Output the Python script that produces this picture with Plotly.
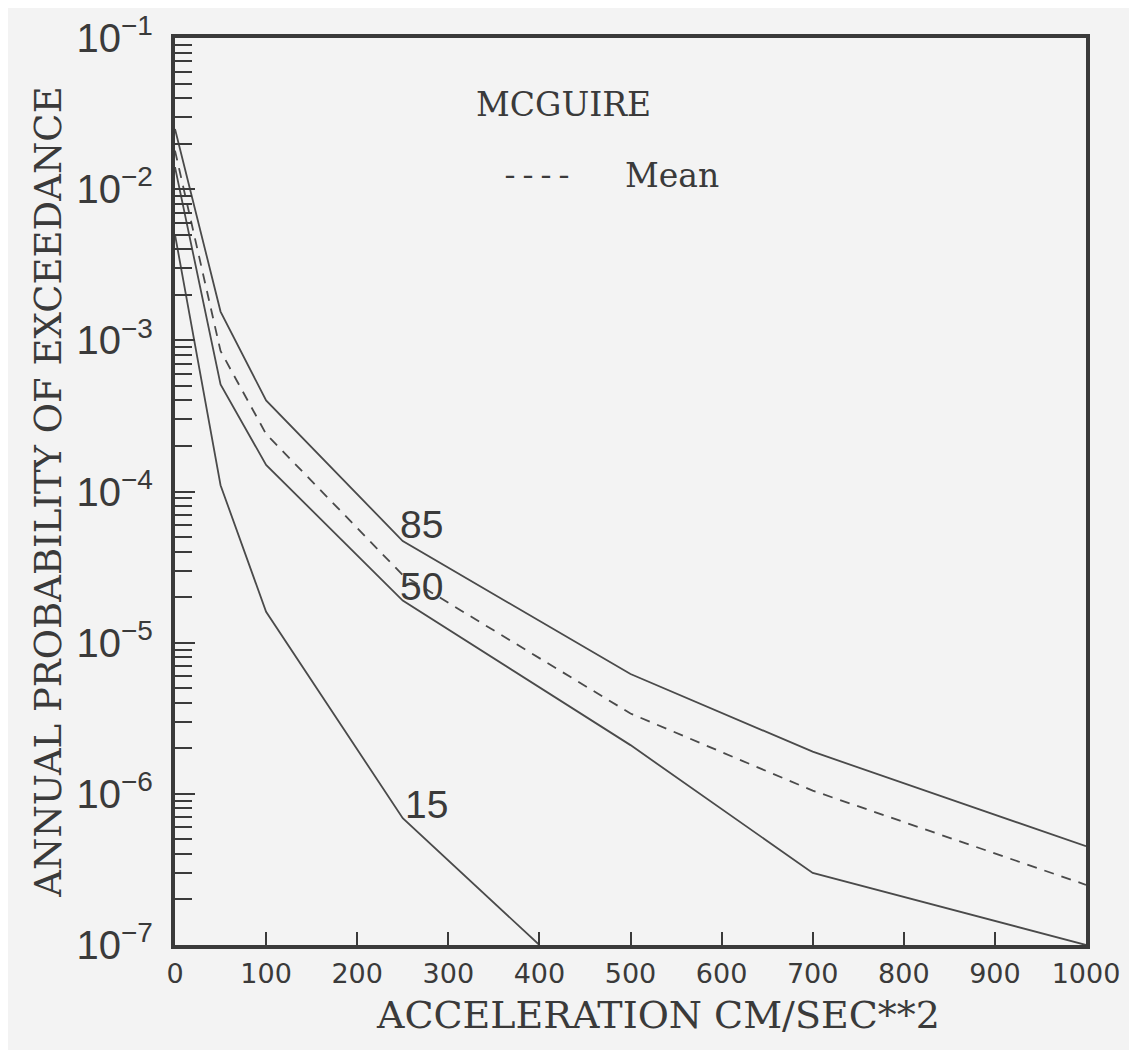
import plotly.graph_objects as go

# Acceleration (cm/sec**2) knots
accel = [0, 50, 100, 250, 500, 700, 1000]
accel_15 = [0, 50, 100, 250, 400]

# Annual probability of exceedance
p85 = [0.025, 1.55e-3, 4.0e-4, 4.7e-5, 6.2e-6, 1.9e-6, 4.5e-7]
p50 = [0.014, 5.1e-4, 1.5e-4, 1.9e-5, 2.1e-6, 3.0e-7, 1.0e-7]
pmean = [0.018, 8.5e-4, 2.4e-4, 2.8e-5, 3.4e-6, 1.05e-6, 2.5e-7]
p15 = [0.005, 1.1e-4, 1.6e-5, 6.9e-7, 1.0e-7]

x_ticks = [0, 100, 200, 300, 400, 500, 600, 700, 800, 900, 1000]

line_col = "#4a4a4a"
ink = "#3a3a3a"
bg = "#f3f3f3"

fig = go.Figure()
fig.add_trace(go.Scatter(x=accel, y=p85, mode="lines", name="85",
                         line=dict(color=line_col, width=1.8), showlegend=False))
fig.add_trace(go.Scatter(x=accel, y=pmean, mode="lines", name="Mean",
                         line=dict(color=line_col, width=1.8, dash="10px,8px"), showlegend=False))
fig.add_trace(go.Scatter(x=accel, y=p50, mode="lines", name="50",
                         line=dict(color=line_col, width=1.8), showlegend=False))
fig.add_trace(go.Scatter(x=accel_15, y=p15, mode="lines", name="15",
                         line=dict(color=line_col, width=1.8), showlegend=False))

num_font = dict(family="Liberation Sans, Arial, sans-serif", size=39, color=ink)
fig.add_annotation(x=245, y=-4.22, text="85", showarrow=False, xanchor="left", yanchor="middle", font=num_font)
fig.add_annotation(x=245, y=-4.63, text="50", showarrow=False, xanchor="left", yanchor="middle", font=num_font)
fig.add_annotation(x=250, y=-6.07, text="15", showarrow=False, xanchor="left", yanchor="middle", font=num_font)

serif = "DejaVu Serif, serif"
fig.add_annotation(xref="paper", yref="paper", x=0.427, y=0.927, text="MCGUIRE",
                   xanchor="center", yanchor="middle",
                   showarrow=False, font=dict(family=serif, size=33, color=ink))
fig.add_annotation(xref="paper", yref="paper", x=0.397, y=0.847, text="----",
                   xanchor="center", yanchor="middle",
                   showarrow=False, font=dict(family="Liberation Mono, monospace", size=30, color=ink))
fig.add_annotation(xref="paper", yref="paper", x=0.546, y=0.848, text="Mean",
                   xanchor="center", yanchor="middle",
                   showarrow=False, font=dict(family=serif, size=33, color=ink))
# x-axis title, placed as in the original (slightly right of centre)
fig.add_annotation(xref="paper", yref="paper", x=0.530, y=-0.077, text="ACCELERATION CM/SEC**2",
                   xanchor="center", yanchor="middle",
                   showarrow=False, font=dict(family=serif, size=38, color=ink))

fig.update_layout(
    width=1137, height=1050,
    margin=dict(l=167, r=59, t=30, b=113),
    paper_bgcolor=bg, plot_bgcolor=bg,
    showlegend=False,
)

fig.update_xaxes(
    range=[0, 1000], automargin=False,
    tickmode="array", tickvals=x_ticks, ticktext=[str(v) for v in x_ticks],
    ticks="inside", ticklen=13, tickwidth=1.5, tickcolor=ink,
    showline=True, linewidth=3.5, linecolor=ink, mirror=True,
    showgrid=False, zeroline=False,
    tickfont=dict(family="DejaVu Sans, sans-serif", size=27, color=ink),
    ticklabelstandoff=2,
)

fig.update_yaxes(
    type="log", range=[-7, -1], automargin=False,
    tickmode="linear", tick0=0, dtick=1, exponentformat="power", showexponent="all",
    ticklabeloverflow="allow",
    ticks="inside", ticklen=20, tickwidth=1.5, tickcolor=ink,
    minor=dict(ticks="inside", ticklen=17, tickwidth=1.5, tickcolor=ink, dtick="D1", showgrid=False),
    showline=True, linewidth=3.5, linecolor=ink, mirror=True,
    showgrid=False, zeroline=False,
    tickfont=dict(family="Liberation Sans, Arial, sans-serif", size=32, color=ink),
    ticklabelstandoff=12,
    title=dict(text="ANNUAL PROBABILITY OF EXCEEDANCE", font=dict(family=serif, size=37, color=ink), standoff=4),
)

fig.write_html("out.html")
